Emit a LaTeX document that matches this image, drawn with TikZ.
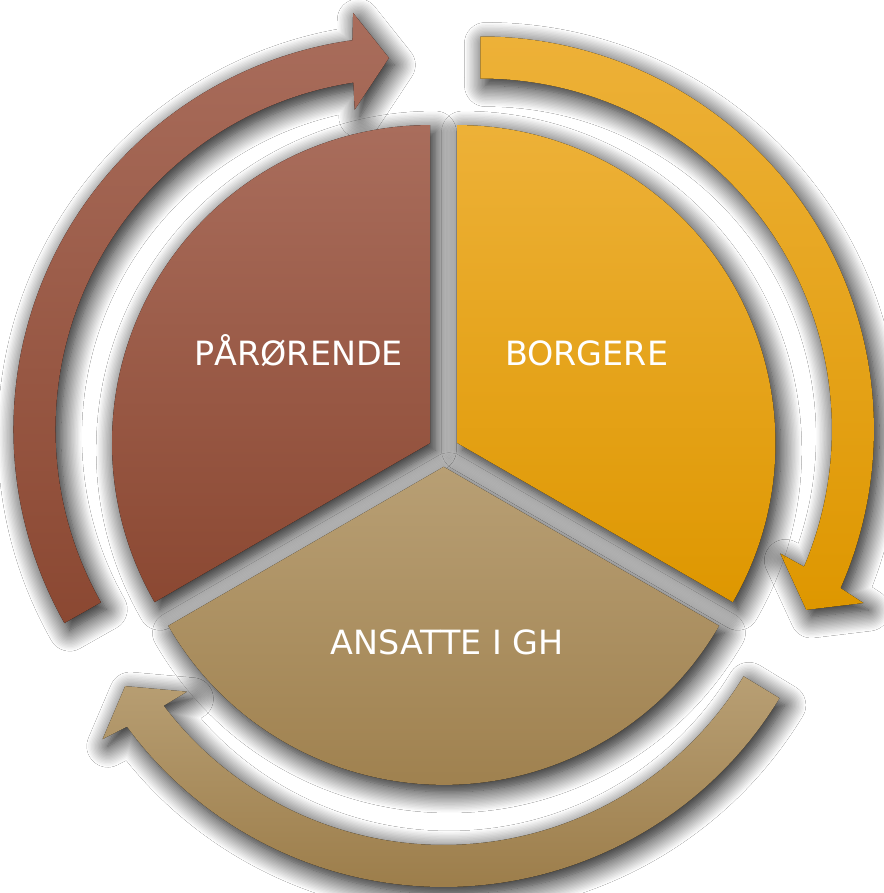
\documentclass[tikz,border=0pt]{standalone}
\usepackage{fontspec}
\setmainfont{DejaVu Sans}
\usetikzlibrary{shadows.blur}

\definecolor{paroTop}{HTML}{A96D5C}
\definecolor{paroBot}{HTML}{8B4832}
\definecolor{borgTop}{HTML}{EDB138}
\definecolor{borgBot}{HTML}{DE9700}
\definecolor{ansTop}{HTML}{B89F74}
\definecolor{ansBot}{HTML}{9C7D4A}

\tikzset{
  softshadow/.style={blur shadow={shadow xshift=3pt, shadow yshift=-4pt,
      shadow blur radius=12pt, shadow blur steps=16, shadow opacity=100}},
  segtext/.style={text=white, font=\fontsize{19}{23}\selectfont, anchor=base},
}

\begin{document}
\begin{tikzpicture}[x=0.02cm, y=0.02cm]
\useasboundingbox[fill=white] (-443.7,-442) rectangle (440.3,451);

% arrows round the cycle (centre angle / tail / tip / colours)
\foreach \c/\a/\b/\ct/\cb in {270/-31.3/-148.9/ansTop/ansBot,
                              150/209.5/92.7/paroTop/paroBot,
                              30/90.1/-29.0/borgTop/borgBot}{
  \begin{scope}[shift={(\c:43)}]
    \fill[softshadow, top color=\ct, bottom color=\cb]
      (\a:393) arc[start angle=\a, end angle=\b+5.2, radius=393]
      -- (\b+4.6:420) -- (\b:372) -- (\b+6.5:324) -- (\b+6.0:351)
      arc[start angle=\b+6.0, end angle=\a, radius=351] -- cycle;
  \end{scope}
}

% the three segments
\fill[softshadow, top color=paroTop, bottom color=paroBot]
  (150:15.8) -- ++(90:318) arc[start angle=90, end angle=210, radius=318] -- cycle;
\fill[softshadow, top color=borgTop, bottom color=borgBot]
  (30:15.8) -- ++(-30:318) arc[start angle=-30, end angle=90, radius=318] -- cycle;
\fill[softshadow, top color=ansTop, bottom color=ansBot]
  (270:15.8) -- ++(210:318) arc[start angle=210, end angle=330, radius=318] -- cycle;

\node[segtext] (paro) at (-145,85.3) {PÅRØRENDE};
\node[segtext] (borg) at (143,86) {BORGERE};
\node[segtext] (ans) at (3.5,-203) {ANSATTE I GH};
\end{tikzpicture}
\end{document}
